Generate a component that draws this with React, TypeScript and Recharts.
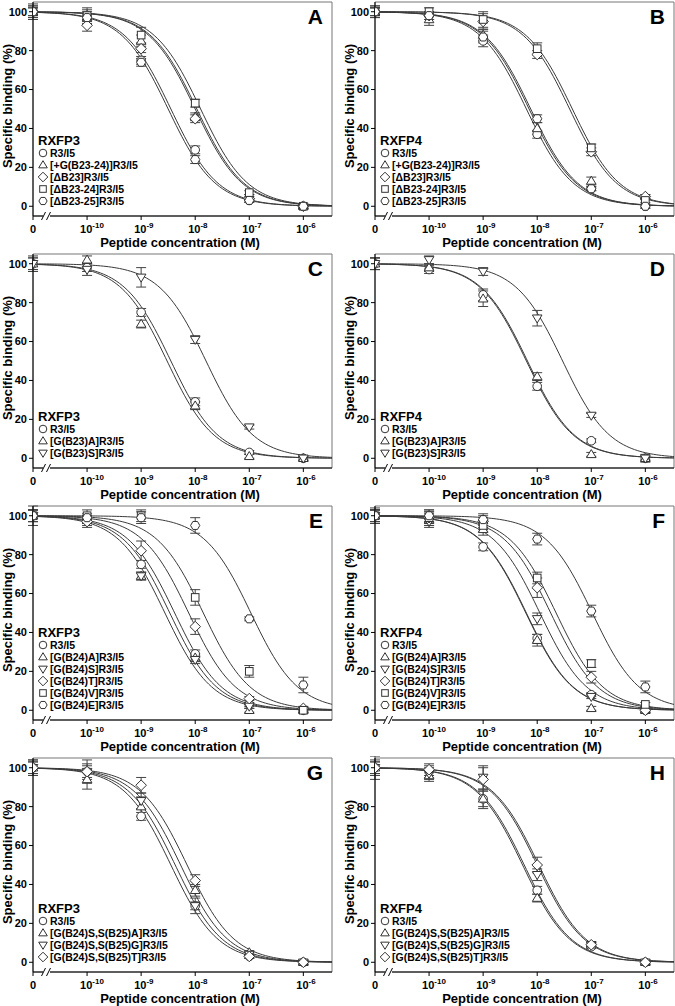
import React from 'react';
import { ComposedChart, Line, Scatter, XAxis, YAxis, ErrorBar, ReferenceArea } from 'recharts';

const FONT = '"Liberation Sans", Arial, Helvetica, sans-serif';

// log10 of molar concentration; -11 stands for the no-peptide control drawn at "0"
const CONC_LOG = [-11, -10, -9, -8, -7, -6];
const X_MAX = -5.47;
const X_TICKS = [-11, -10, -9, -8, -7, -6];
const X_TICK_EXP = ['', '-10', '-9', '-8', '-7', '-6'];
const Y_TICKS = [0, 20, 40, 60, 80, 100];

// panel A - RXFP3
const A_LABELS = ['R3/I5', '[+G(B23-24)]R3/I5', '[ΔB23]R3/I5', '[ΔB23-24]R3/I5', '[ΔB23-25]R3/I5'];
const A_SHAPES = ['circle', 'triangle', 'diamond', 'square', 'hexagon'];
const A_Y = [
  [100, 98, 75, 29, 3, 0],
  [100, 97, 85, 46, 5, 0],
  [100, 93, 81, 45, 4, 0],
  [100, 98, 88, 53, 7, 0],
  [100, 97, 74, 24, 3, 0],
];
const A_SEM = [
  [3, 2, 2, 2, 1, 1],
  [3, 4, 3, 2, 1, 1],
  [2, 3, 2, 2, 1, 1],
  [4, 4, 4, 2, 1, 1],
  [2, 2, 2, 2, 1, 1],
];
const A_LOGIC50 = [-8.45, -7.97, -8.0, -7.9, -8.5];

// panel B - RXFP4
const B_LABELS = A_LABELS;
const B_SHAPES = A_SHAPES;
const B_Y = [
  [100, 98, 85, 37, 9, 0],
  [100, 96, 88, 40, 13, 5],
  [100, 98, 95, 78, 28, 5],
  [100, 100, 96, 81, 30, 3],
  [100, 98, 87, 45, 9, 0],
];
const B_SEM = [
  [2, 2, 3, 2, 1, 1],
  [3, 3, 3, 3, 2, 1],
  [2, 2, 4, 2, 2, 1],
  [2, 2, 4, 3, 2, 1],
  [3, 2, 3, 2, 1, 1],
];
const B_LOGIC50 = [-8.2, -8.15, -7.4, -7.35, -8.12];

// panel C - RXFP3
const C_LABELS = ['R3/I5', '[G(B23)A]R3/I5', '[G(B23)S]R3/I5'];
const C_SHAPES = ['circle', 'triangle', 'invtriangle'];
const C_Y = [
  [100, 98, 75, 29, 3, 0],
  [100, 102, 69, 27, 1, 0],
  [100, 97, 93, 61, 16, 0],
];
const C_SEM = [
  [3, 2, 2, 2, 1, 1],
  [3, 2, 2, 2, 1, 1],
  [4, 3, 5, 2, 1, 1],
];
const C_LOGIC50 = [-8.45, -8.52, -7.8];

// panel D - RXFP4
const D_LABELS = C_LABELS;
const D_SHAPES = C_SHAPES;
const D_Y = [
  [100, 97, 84, 37, 9, 0],
  [100, 98, 82, 42, 2, 0],
  [100, 102, 96, 72, 22, 0],
];
const D_SEM = [
  [3, 2, 3, 2, 1, 1],
  [3, 2, 4, 2, 1, 1],
  [3, 2, 2, 4, 1, 2],
];
const D_LOGIC50 = [-8.2, -8.18, -7.53];

// panel E - RXFP3
const E_LABELS = ['R3/I5', '[G(B24)A]R3/I5', '[G(B24)S]R3/I5', '[G(B24)T]R3/I5', '[G(B24)V]R3/I5', '[G(B24)E]R3/I5'];
const E_SHAPES = ['circle', 'triangle', 'invtriangle', 'diamond', 'square', 'hexagon'];
const E_Y = [
  [100, 98, 75, 29, 3, 0],
  [100, 98, 69, 27, 0, 0],
  [100, 97, 69, 26, 2, 0],
  [100, 97, 82, 43, 6, 1],
  [100, 100, 100, 58, 20, 0],
  [100, 99, 99, 95, 47, 13],
];
const E_SEM = [
  [5, 2, 2, 2, 1, 1],
  [3, 2, 2, 2, 1, 1],
  [3, 2, 2, 2, 1, 1],
  [3, 3, 5, 4, 1, 1],
  [3, 3, 3, 4, 3, 1],
  [3, 2, 3, 4, 1, 4],
];
const E_LOGIC50 = [-8.47, -8.56, -8.38, -8.12, -7.85, -6.97];

// panel F - RXFP4
const F_LABELS = E_LABELS;
const F_SHAPES = E_SHAPES;
const F_Y = [
  [100, 99, 84, 37, 8, 0],
  [100, 98, 93, 36, 1, 0],
  [100, 97, 96, 47, 7, 0],
  [100, 99, 97, 63, 17, 0],
  [100, 99, 95, 68, 24, 3],
  [100, 100, 98, 88, 51, 12],
];
const F_SEM = [
  [4, 3, 2, 2, 1, 1],
  [3, 3, 3, 3, 1, 1],
  [3, 3, 3, 3, 1, 1],
  [3, 3, 3, 5, 3, 1],
  [3, 4, 3, 3, 2, 1],
  [3, 3, 3, 3, 3, 3],
];
const F_LOGIC50 = [-8.2, -8.21, -7.95, -7.75, -7.65, -6.98];

// panel G - RXFP3
const G_LABELS = ['R3/I5', '[G(B24)S,S(B25)A]R3/I5', '[G(B24)S,S(B25)G]R3/I5', '[G(B24)S,S(B25)T]R3/I5'];
const G_SHAPES = ['circle', 'triangle', 'invtriangle', 'diamond'];
const G_Y = [
  [100, 98, 75, 29, 3, 0],
  [100, 94, 80, 37, 5, 0],
  [100, 98, 83, 29, 4, 0],
  [100, 98, 91, 42, 3, 0],
];
const G_SEM = [
  [4, 3, 2, 2, 1, 1],
  [4, 5, 5, 3, 1, 1],
  [3, 4, 4, 4, 1, 1],
  [3, 6, 4, 3, 1, 1],
];
const G_LOGIC50 = [-8.45, -8.27, -8.37, -8.15];

// panel H - RXFP4
const H_LABELS = G_LABELS;
const H_SHAPES = G_SHAPES;
const H_Y = [
  [100, 98, 84, 37, 8, 0],
  [100, 96, 84, 33, 9, 0],
  [100, 97, 95, 45, 9, 0],
  [100, 99, 94, 50, 9, 0],
];
const H_SEM = [
  [6, 3, 4, 2, 1, 1],
  [4, 3, 5, 2, 1, 1],
  [3, 3, 6, 3, 1, 1],
  [3, 3, 6, 4, 1, 1],
];
const H_LOGIC50 = [-8.24, -8.27, -8.0, -7.97];

const PANELS = [
  { letter: 'A', receptor: 'RXFP3', labels: A_LABELS, shapes: A_SHAPES, y: A_Y, sem: A_SEM, ic: A_LOGIC50 },
  { letter: 'B', receptor: 'RXFP4', labels: B_LABELS, shapes: B_SHAPES, y: B_Y, sem: B_SEM, ic: B_LOGIC50 },
  { letter: 'C', receptor: 'RXFP3', labels: C_LABELS, shapes: C_SHAPES, y: C_Y, sem: C_SEM, ic: C_LOGIC50 },
  { letter: 'D', receptor: 'RXFP4', labels: D_LABELS, shapes: D_SHAPES, y: D_Y, sem: D_SEM, ic: D_LOGIC50 },
  { letter: 'E', receptor: 'RXFP3', labels: E_LABELS, shapes: E_SHAPES, y: E_Y, sem: E_SEM, ic: E_LOGIC50 },
  { letter: 'F', receptor: 'RXFP4', labels: F_LABELS, shapes: F_SHAPES, y: F_Y, sem: F_SEM, ic: F_LOGIC50 },
  { letter: 'G', receptor: 'RXFP3', labels: G_LABELS, shapes: G_SHAPES, y: G_Y, sem: G_SEM, ic: G_LOGIC50 },
  { letter: 'H', receptor: 'RXFP4', labels: H_LABELS, shapes: H_SHAPES, y: H_Y, sem: H_SEM, ic: H_LOGIC50 },
];

// one-site competition fit (top 100, bottom 0, Hill slope -1) drawn from each read-off logIC50
const CURVE_X = Array.from({ length: 112 }, (_, i) => Math.min(-11 + i * 0.05, X_MAX));
const fitCurve = (logIC50: number) =>
  CURVE_X.map((x) => ({ x, y: 100 / (1 + Math.pow(10, x - logIC50)) }));

const W = 333;
const H = 252;

function Marker({ shape, cx, cy, r = 4.3 }: { shape: string; cx: number; cy: number; r?: number }) {
  const st = { fill: '#fff', stroke: '#333', strokeWidth: 1 };
  switch (shape) {
    case 'square':
      return <rect x={cx - r + 0.5} y={cy - r + 0.5} width={2 * r - 1} height={2 * r - 1} {...st} />;
    case 'triangle':
      return <polygon points={`${cx},${cy - r - 0.5} ${cx + r + 0.5},${cy + r * 0.75} ${cx - r - 0.5},${cy + r * 0.75}`} {...st} />;
    case 'invtriangle':
      return <polygon points={`${cx},${cy + r + 0.5} ${cx + r + 0.5},${cy - r * 0.75} ${cx - r - 0.5},${cy - r * 0.75}`} {...st} />;
    case 'diamond':
      return <polygon points={`${cx},${cy - r - 1} ${cx + r + 1},${cy} ${cx},${cy + r + 1} ${cx - r - 1},${cy}`} {...st} />;
    case 'hexagon': {
      const pts = [0, 60, 120, 180, 240, 300]
        .map((a) => `${cx + (r + 0.3) * Math.cos((a * Math.PI) / 180)},${cy + (r + 0.3) * Math.sin((a * Math.PI) / 180)}`)
        .join(' ');
      return <polygon points={pts} {...st} />;
    }
    default:
      return <circle cx={cx} cy={cy} r={r} {...st} />;
  }
}

const XTick = (props: any) => {
  const { x, y, payload } = props;
  const i = X_TICKS.indexOf(payload.value);
  if (i === 0) {
    return (
      <text x={x} y={y + 11} textAnchor="middle" fontSize={11} fontWeight="bold" fontFamily={FONT} fill="#000">
        0
      </text>
    );
  }
  return (
    <text x={x - 7} y={y + 11} textAnchor="start" fontSize={11} fontWeight="bold" fontFamily={FONT} fill="#000">
      <tspan>10</tspan>
      <tspan dy={-5} fontSize={8}>{X_TICK_EXP[i]}</tspan>
    </text>
  );
};

function Panel({ p }: { p: (typeof PANELS)[number] }) {
  const n = p.labels.length;
  const legendY = (i: number) => 201 - (n - 1 - i) * 12;
  return (
    <div style={{ position: 'relative', width: W, height: H }}>
      <ComposedChart width={W} height={H} margin={{ top: 2, right: 1, bottom: 0, left: 0 }}>
        <ReferenceArea x1={-11} x2={X_MAX} y1={-5} y2={105} fill="none" stroke="#777" strokeWidth={1} ifOverflow="visible" />
        <XAxis
          type="number"
          dataKey="x"
          domain={[-11, X_MAX]}
          ticks={X_TICKS}
          interval={0}
          allowDataOverflow
          height={36}
          tickSize={4}
          tickMargin={2}
          axisLine={{ stroke: '#000' }}
          tickLine={{ stroke: '#000' }}
          tick={<XTick />}
        />
        <YAxis
          type="number"
          dataKey="y"
          domain={[-5, 105]}
          ticks={Y_TICKS}
          interval={0}
          allowDataOverflow
          width={33}
          tickSize={4}
          tickMargin={2}
          axisLine={{ stroke: '#000' }}
          tickLine={{ stroke: '#000' }}
          tick={{ fontSize: 11, fontWeight: 'bold', fill: '#000', fontFamily: FONT }}
        />
        {p.ic.map((ic, i) => (
          <Line
            key={`fit-${i}`}
            data={fitCurve(ic)}
            dataKey="y"
            type="linear"
            dot={false}
            activeDot={false}
            stroke="#3a3a3a"
            strokeWidth={1}
            isAnimationActive={false}
          />
        ))}
        {p.y.map((vals, i) => (
          <Scatter
            key={`pts-${i}`}
            data={CONC_LOG.map((x, j) => ({ x, y: vals[j], e: p.sem[i][j] }))}
            dataKey="y"
            isAnimationActive={false}
            shape={(sp: any) => <Marker shape={p.shapes[i]} cx={sp.cx} cy={sp.cy} />}
          >
            <ErrorBar dataKey="e" direction="y" width={5} stroke="#444" strokeWidth={1} />
          </Scatter>
        ))}
      </ComposedChart>
      <svg width={W} height={H} style={{ position: 'absolute', left: 0, top: 0, pointerEvents: 'none' }} fontFamily={FONT}>
        <text x={323} y={24} textAnchor="end" fontSize={21} fontWeight="bold" fill="#000">
          {p.letter}
        </text>
        {/* axis break */}
        <rect x={43} y={213} width={7} height={6} fill="#fff" />
        <line x1={41.5} y1={220} x2={45.5} y2={212} stroke="#000" strokeWidth={1} />
        <line x1={46.5} y1={220} x2={50.5} y2={212} stroke="#000" strokeWidth={1} />
        <text
          x={11.5}
          y={106}
          transform="rotate(-90 11.5 106)"
          textAnchor="middle"
          fontSize={13}
          fontWeight="bold"
          fill="#000"
        >
          Specific binding (%)
        </text>
        <text x={180} y={247} textAnchor="middle" fontSize={13} fontWeight="bold" fill="#000">
          Peptide concentration (M)
        </text>
        <text x={38} y={legendY(0) - 13 + 4.5} fontSize={13} fontWeight="bold" fill="#000">
          {p.receptor}
        </text>
        {p.labels.map((lab, i) => (
          <g key={lab + i}>
            <Marker shape={p.shapes[i]} cx={43} cy={legendY(i)} r={3.8} />
            <text x={50} y={legendY(i) + 4} fontSize={10.5} fontWeight="bold" fill="#000">
              {lab}
            </text>
          </g>
        ))}
      </svg>
    </div>
  );
}

export default function App() {
  return (
    <div style={{ position: 'absolute', left: 0, top: 0, width: 675, height: 1006, background: '#fff', overflow: 'hidden' }}>
      {PANELS.map((p, k) => (
        <div key={p.letter} style={{ position: 'absolute', left: k % 2 === 0 ? 0 : 342, top: Math.floor(k / 2) * 252 }}>
          <Panel p={p} />
        </div>
      ))}
    </div>
  );
}
